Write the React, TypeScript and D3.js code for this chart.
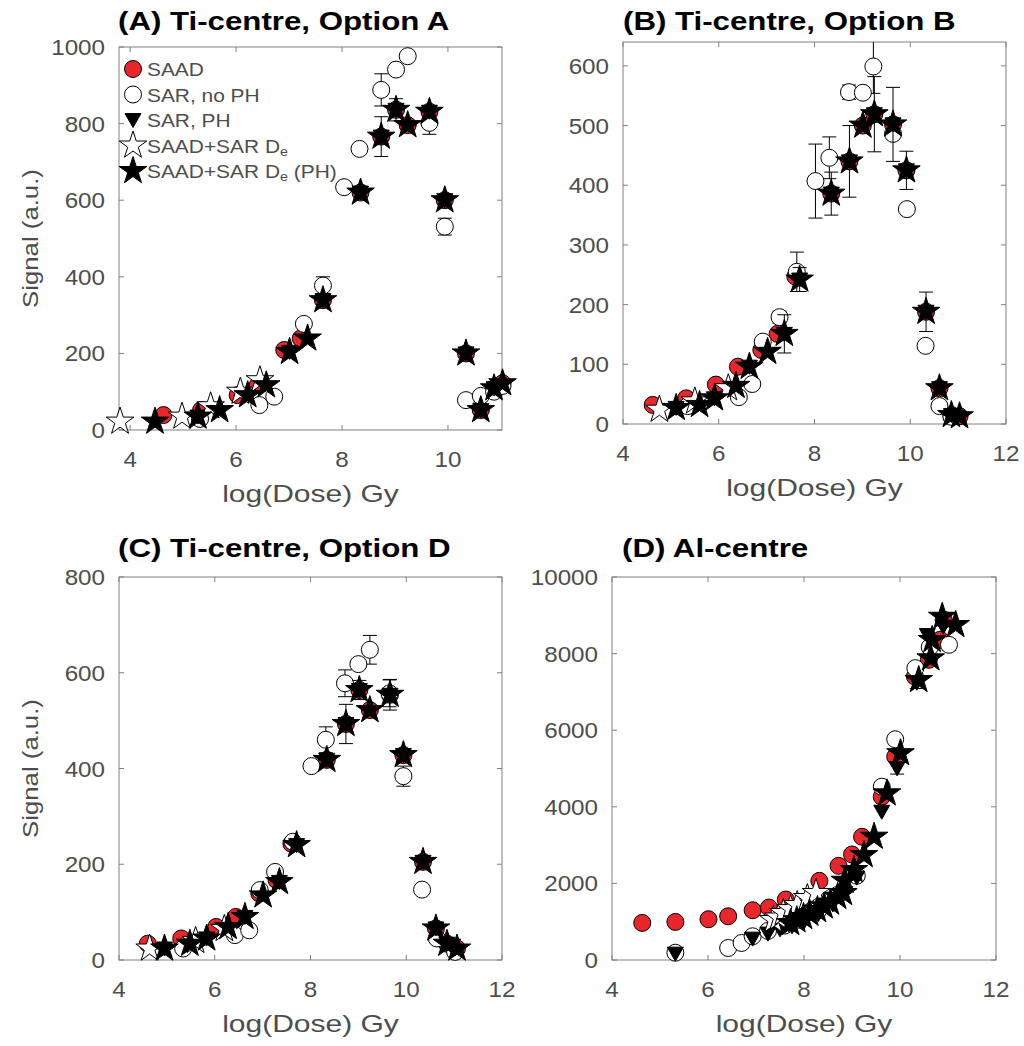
import React from "react";
import * as d3 from "d3";

type P = number[];

// ---------- Panel A: Ti-centre, Option A ----------
const A_SAAD: P[] = [[4.63,39],[5.34,52],[6.03,91],[6.41,117],[6.91,209],[7.22,239],[7.64,339],[8.35,620],[8.74,766],[9.02,836],[9.24,796],[9.65,831],[9.94,600],[10.34,200],[10.62,52],[10.87,109],[11.03,122]];
const A_SAR: P[] = [[5.32,29,0],[6.44,65,0],[6.72,87,0],[7.28,277,0],[7.64,377,23],[8.04,634,0],[8.33,734,0],[8.74,888,42],[9.02,941,0],[9.24,976,0],[9.65,802,30],[9.94,531,22],[10.34,78,0],[10.62,89,0],[10.87,100,0],[11.03,115,0]];
const A_SARPH: P[] = [[5.28,35],[6.22,91],[7.01,204],[7.64,339],[8.35,620],[8.74,766],[9.02,836],[9.65,831],[9.94,600],[10.34,200],[10.62,52],[10.87,109]];
const A_STAR: P[] = [[3.81,22],[4.98,35],[5.52,62],[6.08,100],[6.45,130]];
const A_STARPH: P[] = [[4.47,22,0],[5.28,35,0],[5.69,52,0],[6.22,91,0],[6.57,117,0],[7.01,204,0],[7.35,239,0],[7.64,339,0],[8.35,620,0],[8.74,766,52],[9.02,836,29],[9.24,796,0],[9.65,831,0],[9.94,600,10],[10.34,200,0],[10.62,52,0],[10.87,109,0],[11.03,122,0]];

// ---------- Panel B: Ti-centre, Option B ----------
const B_SAAD: P[] = [[4.62,32],[5.32,43],[5.94,66],[6.40,96],[6.89,124],[7.23,151],[7.60,247],[8.35,386],[8.73,440],[9.01,500],[9.25,519],[9.64,502],[9.92,425],[10.33,188],[10.61,60],[10.86,15],[11.03,13]];
const B_SAR: P[] = [[5.35,30,0],[6.42,45,0],[6.70,67,0],[6.92,138,0],[7.27,179,10],[7.63,255,33],[8.02,407,62],[8.31,446,35],[8.72,556,12],[9.01,555,0],[9.23,599,45],[9.64,486,0],[9.93,360,0],[10.32,131,0],[10.61,30,0],[10.86,12,0]];
const B_SARPH: P[] = [[5.11,27],[5.91,43],[6.64,96],[7.37,151],[7.69,242],[8.35,386],[8.73,440],[9.25,519],[9.64,502],[9.92,425],[10.33,188],[10.61,60],[10.86,15]];
const B_STAR: P[] = [[4.76,24],[5.50,38],[6.20,60]];
const B_STARPH: P[] = [[5.11,27,0],[5.60,32,0],[5.91,43,0],[6.36,64,0],[6.64,96,0],[7.02,121,0],[7.37,151,32],[7.69,242,20],[8.35,386,36],[8.73,440,60],[9.01,500,0],[9.25,519,63],[9.64,502,62],[9.92,425,32],[10.33,188,33],[10.61,60,0],[10.86,15,0],[11.03,13,0]];

// ---------- Panel C: Ti-centre, Option D ----------
const C_SAAD: P[] = [[4.60,34],[5.30,45],[6.03,69],[6.44,90],[6.93,139],[7.29,167],[7.60,243],[8.34,418],[8.74,493],[9.02,564],[9.24,522],[9.66,554],[9.94,428],[10.35,205],[10.62,66],[10.85,34],[11.06,24]];
const C_SAR: P[] = [[5.34,24,0],[6.42,52,0],[6.72,62,0],[6.94,146,0],[7.26,184,0],[7.63,247,0],[8.02,405,0],[8.32,460,27],[8.72,578,28],[9.00,618,0],[9.24,648,30],[9.65,557,28],[9.94,384,21],[10.33,147,0],[10.64,45,0],[11.02,17,0]];
const C_SARPH: P[] = [[4.95,24],[5.83,45],[6.63,90],[7.35,163],[7.71,240],[8.34,418],[8.74,493],[9.02,564],[9.66,554],[9.94,428],[10.35,205],[10.62,66],[10.85,34]];
const C_STAR: P[] = [[4.64,24],[5.60,40],[6.20,65]];
const C_STARPH: P[] = [[4.95,24,0],[5.48,34,0],[5.83,45,0],[6.28,69,0],[6.63,90,0],[7.01,135,0],[7.35,163,0],[7.71,240,0],[8.34,418,0],[8.74,493,41],[9.02,564,20],[9.24,522,0],[9.66,554,32],[9.94,428,0],[10.35,205,0],[10.62,66,0],[10.85,34,0],[11.06,24,0]];

// ---------- Panel D: Al-centre ----------
const D_SAAD: P[] = [[4.63,968],[5.32,994],[6.01,1064],[6.42,1142],[6.93,1299],[7.27,1369],[7.62,1578],[8.32,2066],[8.72,2459],[9.00,2755],[9.21,3217],[9.62,4263],[9.90,5310],[10.31,7402],[10.60,7838],[10.84,8361],[10.91,8884]];
const D_SAR: P[] = [[5.32,190,0],[6.42,314,0],[6.70,445,0],[6.93,619,0],[7.25,760,0],[7.60,900,0],[7.90,1050,0],[8.30,1300,0],[8.70,1700,0],[9.10,2200,0],[9.62,4525,0],[9.90,5763,0],[10.32,7620,0],[10.62,8169,0],[11.02,8230,150]];
const D_SARPH: P[] = [[5.32,166,0],[6.93,558,0],[7.25,689,0],[7.50,800,0],[7.75,880,0],[8.00,1000,0],[8.30,1200,0],[8.60,1450,0],[8.85,1750,0],[9.10,2150,0],[9.62,3871,0],[9.94,5004,150],[10.35,7240,150],[10.57,8485,0],[10.90,8700,0]];
const D_STAR: P[] = [[7.36,1044],[7.47,1110],[7.57,1227],[7.72,1330],[7.86,1436],[8.07,1619],[8.25,1750]];
const D_STARPH: P[] = [[7.72,966,0],[7.85,1040,0],[7.99,1123,0],[8.12,1210,0],[8.28,1305,0],[8.42,1400,0],[8.55,1500,0],[8.70,1650,0],[8.82,1749,0],[8.85,2070,0],[9.04,2350,0],[9.25,2740,0],[9.46,3220,0],[9.73,4352,0],[10.01,5400,0],[10.39,7311,0],[10.64,7877,0],[10.67,8355,0],[10.88,8963,0],[11.16,8747,0]];

// ---------- Axes ----------
const X_TICKS_A = [4, 6, 8, 10];
const X_TICKS = [4, 6, 8, 10, 12];
const Y_TICKS_A = [0, 200, 400, 600, 800, 1000];
const Y_TICKS_B = [0, 100, 200, 300, 400, 500, 600];
const Y_TICKS_C = [0, 200, 400, 600, 800];
const Y_TICKS_D = [0, 2000, 4000, 6000, 8000, 10000];

const TITLES = ["(A) Ti-centre, Option A", "(B) Ti-centre, Option B", "(C) Ti-centre, Option D", "(D) Al-centre"];
const X_LABEL = "log(Dose) Gy";
const Y_LABEL = "Signal (a.u.)";
const LEGEND = ["SAAD", "SAR, no PH", "SAR, PH", "SAAD+SAR D|e", "SAAD+SAR D|e| (PH)"];

const FONT = "'Liberation Sans', Arial, Helvetica, sans-serif";
const AXIS = "#808080";
const TXT = "#4d4d4d";
const RED = "#e8262b";

function starPath(r: number) {
  const ri = r * 0.382;
  const pts: string[] = [];
  for (let i = 0; i < 10; i++) {
    const rr = i % 2 === 0 ? r : ri;
    const a = -Math.PI / 2 + (i * Math.PI) / 5;
    pts.push(`${(rr * Math.cos(a)).toFixed(2)},${(rr * Math.sin(a)).toFixed(2)}`);
  }
  return "M" + pts.join("L") + "Z";
}
const STAR = starPath(14.5);
const TRI = "M-8,-6.5L8,-6.5L0,7.5Z";

type Kind = "saad" | "sar" | "sarph" | "star" | "starph";

function Marker({ kind, x, y }: { kind: Kind; x: number; y: number }) {
  if (kind === "saad") return <circle cx={x} cy={y} r={8.5} fill={RED} stroke="#000" strokeWidth={1} />;
  if (kind === "sar") return <circle cx={x} cy={y} r={8.5} fill="#fff" stroke="#000" strokeWidth={1} />;
  if (kind === "sarph") return <path d={TRI} transform={`translate(${x},${y})`} fill="#000" stroke="#000" strokeWidth={1} />;
  if (kind === "star") return <path d={STAR} transform={`translate(${x},${y})`} fill="#fff" stroke="#000" strokeWidth={1} />;
  return <path d={STAR} transform={`translate(${x},${y})`} fill="#000" stroke="#000" strokeWidth={1} />;
}

function SText({ x, y, size, sx = 1, anchor = "start", weight = "normal", fill = TXT, rotate = 0, children }: any) {
  return (
    <g transform={`translate(${x},${y}) rotate(${rotate}) scale(${sx},1)`}>
      <text x={0} y={0} fontFamily={FONT} fontSize={size} fontWeight={weight} fill={fill} textAnchor={anchor}>
        {children}
      </text>
    </g>
  );
}

function subText(s: string) {
  const parts = s.split("|");
  return parts.map((p, i) =>
    i % 2 === 1 ? (
      <tspan key={i} fontSize={13} dy={3}>{p}</tspan>
    ) : (
      <tspan key={i} dy={i > 0 ? -3 : 0}>{p}</tspan>
    )
  );
}

interface PanelDef {
  id: string;
  title: string;
  box: [number, number, number, number];
  xd: [number, number];
  yd: [number, number];
  xt: number[];
  yt: number[];
  series: { kind: Kind; data: P[] }[];
  ylabel: boolean;
  legend: boolean;
  titleX: number;
  titleY: number;
}

const PANELS: PanelDef[] = [
  { id: "a", title: TITLES[0], box: [119, 502, 47, 430], xd: [3.79, 11.02], yd: [0, 1000], xt: X_TICKS_A, yt: Y_TICKS_A,
    series: [{ kind: "saad", data: A_SAAD }, { kind: "sar", data: A_SAR }, { kind: "sarph", data: A_SARPH }, { kind: "star", data: A_STAR }, { kind: "starph", data: A_STARPH }],
    ylabel: true, legend: true, titleX: 118, titleY: 30 },
  { id: "b", title: TITLES[1], box: [623, 1006, 42, 424], xd: [4, 12], yd: [0, 640], xt: X_TICKS, yt: Y_TICKS_B,
    series: [{ kind: "saad", data: B_SAAD }, { kind: "sar", data: B_SAR }, { kind: "sarph", data: B_SARPH }, { kind: "star", data: B_STAR }, { kind: "starph", data: B_STARPH }],
    ylabel: false, legend: false, titleX: 623, titleY: 30 },
  { id: "c", title: TITLES[2], box: [119, 502, 577, 960], xd: [4, 12], yd: [0, 800], xt: X_TICKS, yt: Y_TICKS_C,
    series: [{ kind: "saad", data: C_SAAD }, { kind: "sar", data: C_SAR }, { kind: "sarph", data: C_SARPH }, { kind: "star", data: C_STAR }, { kind: "starph", data: C_STARPH }],
    ylabel: true, legend: false, titleX: 118, titleY: 557 },
  { id: "d", title: TITLES[3], box: [612, 996, 577, 960], xd: [4, 12], yd: [0, 10000], xt: X_TICKS, yt: Y_TICKS_D,
    series: [{ kind: "saad", data: D_SAAD }, { kind: "sar", data: D_SAR }, { kind: "sarph", data: D_SARPH }, { kind: "star", data: D_STAR }, { kind: "starph", data: D_STARPH }],
    ylabel: false, legend: false, titleX: 622, titleY: 557 },
];

function Panel({ p }: { p: PanelDef }) {
  const [l, r, t, b] = p.box;
  const x = d3.scaleLinear().domain(p.xd).range([l, r]);
  const y = d3.scaleLinear().domain(p.yd).range([b, t]);
  const tl = 5;
  const clipId = `clip-${p.id}`;
  return (
    <g>
      <defs>
        <clipPath id={clipId}>
          <rect x={l} y={t} width={r - l} height={b - t} />
        </clipPath>
      </defs>
      <rect x={l} y={t} width={r - l} height={b - t} fill="#fff" stroke={AXIS} strokeWidth={1} />
      {p.xt.map((v) => (
        <g key={"xt" + v}>
          <line x1={x(v)} x2={x(v)} y1={b} y2={b - tl} stroke={AXIS} />
          <line x1={x(v)} x2={x(v)} y1={t} y2={t + tl} stroke={AXIS} />
          <SText x={x(v)} y={b + 37} size={22} sx={1.1} anchor="middle">{d3.format("d")(v)}</SText>
        </g>
      ))}
      {p.yt.map((v) => (
        <g key={"yt" + v}>
          <line x1={l} x2={l + tl} y1={y(v)} y2={y(v)} stroke={AXIS} />
          <line x1={r} x2={r - tl} y1={y(v)} y2={y(v)} stroke={AXIS} />
          <SText x={l - 14} y={y(v) + 8} size={22} sx={1.1} anchor="end">{d3.format("d")(v)}</SText>
        </g>
      ))}
      {p.series.map((s) => (
        <g key={s.kind}>
          <g clipPath={`url(#${clipId})`}>
            {s.data.filter((d) => d[2]).map((d, i) => (
              <g key={i} stroke="#000" strokeWidth={1}>
                <line x1={x(d[0])} x2={x(d[0])} y1={y(d[1] - d[2])} y2={y(d[1] + d[2])} />
                <line x1={x(d[0]) - 7} x2={x(d[0]) + 7} y1={y(d[1] - d[2])} y2={y(d[1] - d[2])} />
                <line x1={x(d[0]) - 7} x2={x(d[0]) + 7} y1={y(d[1] + d[2])} y2={y(d[1] + d[2])} />
              </g>
            ))}
          </g>
          {s.data.map((d, i) => (
            <Marker key={i} kind={s.kind} x={x(d[0])} y={y(d[1])} />
          ))}
        </g>
      ))}
      <SText x={p.titleX} y={p.titleY} size={25} sx={1.25} weight="bold" fill="#000">{p.title}</SText>
      <SText x={(l + r) / 2} y={b + 72} size={24} sx={1.25} anchor="middle">{X_LABEL}</SText>
      {p.ylabel && (
        <SText x={38} y={(t + b) / 2} size={23} sx={1.12} anchor="middle" rotate={-90}>{Y_LABEL}</SText>
      )}
      {p.legend &&
        LEGEND.map((lab, i) => {
          const kinds: Kind[] = ["saad", "sar", "sarph", "star", "starph"];
          const ly = 69 + i * 25.5;
          return (
            <g key={lab}>
              <Marker kind={kinds[i]} x={133} y={ly} />
              <SText x={147} y={ly + 7} size={19} sx={1.1}>{subText(lab)}</SText>
            </g>
          );
        })}
    </g>
  );
}

export default function App() {
  return (
    <svg width={1024} height={1046} style={{ position: "absolute", left: 0, top: 0, background: "#fff" }}>
      <rect x={0} y={0} width={1024} height={1046} fill="#fff" />
      {PANELS.map((p) => (
        <Panel key={p.id} p={p} />
      ))}
    </svg>
  );
}
